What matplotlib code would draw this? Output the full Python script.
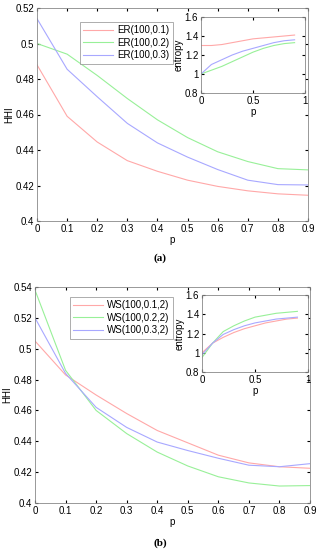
import matplotlib.pyplot as plt

plt.rcParams['font.family'] = ['Liberation Sans', 'DejaVu Sans']

# valores de p
p = [0, 0.1, 0.2, 0.3, 0.4, 0.5, 0.6, 0.7, 0.8, 0.9]

# (a) redes ER - HHI
er_labels = ['ER(100,0.1)', 'ER(100,0.2)', 'ER(100,0.3)']
er_hhi_1 = [0.488, 0.459, 0.4445, 0.434, 0.428, 0.423, 0.4195, 0.417, 0.4153, 0.4145]
er_hhi_2 = [0.500, 0.494, 0.482, 0.469, 0.457, 0.447, 0.439, 0.4335, 0.4295, 0.4288]
er_hhi_3 = [0.514, 0.4855, 0.470, 0.455, 0.444, 0.436, 0.429, 0.423, 0.4205, 0.4203]
# (a) redes ER - entropia
er_ent_1 = [1.30, 1.30, 1.31, 1.33, 1.35, 1.37, 1.38, 1.39, 1.40, 1.41]
er_ent_2 = [1.00, 1.04, 1.08, 1.13, 1.18, 1.23, 1.27, 1.30, 1.32, 1.33]
er_ent_3 = [1.00, 1.10, 1.15, 1.20, 1.24, 1.27, 1.30, 1.33, 1.35, 1.36]

# (b) redes WS - HHI
ws_labels = ['WS(100,0.1,2)', 'WS(100,0.2,2)', 'WS(100,0.3,2)']
ws_hhi_1 = [0.505, 0.483, 0.470, 0.458, 0.447, 0.439, 0.431, 0.426, 0.4235, 0.4225]
ws_hhi_2 = [0.538, 0.486, 0.460, 0.445, 0.433, 0.424, 0.417, 0.413, 0.411, 0.4113]
ws_hhi_3 = [0.520, 0.484, 0.462, 0.449, 0.4395, 0.434, 0.429, 0.4245, 0.4235, 0.4255]
# (b) redes WS - entropia
ws_ent_1 = [1.00, 1.10, 1.16, 1.21, 1.25, 1.28, 1.31, 1.33, 1.35, 1.36]
ws_ent_2 = [0.95, 1.10, 1.22, 1.28, 1.33, 1.37, 1.39, 1.41, 1.42, 1.43]
ws_ent_3 = [0.98, 1.10, 1.19, 1.24, 1.28, 1.31, 1.33, 1.35, 1.36, 1.37]

cores = ['#ffa8a8', '#98f098', '#a8a8ff']
fs = 7

rotulos_p = ['0', '0.1', '0.2', '0.3', '0.4', '0.5', '0.6', '0.7', '0.8', '0.9']


def estilo(ax):
    ax.tick_params(direction='in', top=True, right=True, labelsize=fs, length=2, pad=2)
    for s in ax.spines.values():
        s.set_color('#888888')
        s.set_linewidth(0.6)


fig = plt.figure(figsize=(3.2, 5.5), dpi=100)
W, H = 320, 550


def caixa(x0, y0, x1, y1):
    return [x0 / W, 1 - y1 / H, (x1 - x0) / W, (y1 - y0) / H]


def grafico(pos, series, labels, ymax, yticks, leg_anchor):
    ax = fig.add_axes(caixa(*pos))
    for y, c, lab in zip(series, cores, labels):
        ax.plot(p, y, color=c, lw=0.8, label=lab)
    ax.set_xlim(0, 0.9)
    ax.set_ylim(0.4, ymax)
    ax.set_xticks(p)
    ax.set_xticklabels(rotulos_p)
    ax.set_yticks(yticks)
    ax.set_yticklabels([('%g' % v) for v in yticks])
    ax.set_xlabel('p', fontsize=fs, labelpad=1)
    ax.set_ylabel('HHI', fontsize=fs, labelpad=1)
    estilo(ax)
    leg = ax.legend(loc='upper left', bbox_to_anchor=leg_anchor, fontsize=fs, frameon=True,
                    fancybox=False, edgecolor='#888888', handlelength=3.0, handletextpad=0.5,
                    borderpad=0.35, labelspacing=0.25, borderaxespad=0)
    leg.get_frame().set_linewidth(0.6)
    return ax


def inset(pos, series):
    ax = fig.add_axes(caixa(*pos))
    for y, c in zip(series, cores):
        ax.plot(p, y, color=c, lw=0.8)
    ax.set_xlim(0, 1)
    ax.set_ylim(0.8, 1.6)
    ax.set_xticks([0, 0.5, 1])
    ax.set_xticklabels(['0', '0.5', '1'])
    ax.set_yticks([0.8, 1, 1.2, 1.4, 1.6])
    ax.set_yticklabels(['0.8', '1', '1.2', '1.4', '1.6'])
    ax.set_xlabel('p', fontsize=fs, labelpad=1)
    ax.set_ylabel('entropy', fontsize=fs, labelpad=1)
    estilo(ax)
    return ax


# ---- (a) ----
grafico((37, 8, 308, 221), [er_hhi_1, er_hhi_2, er_hhi_3], er_labels, 0.52,
        [0.4, 0.42, 0.44, 0.46, 0.48, 0.5, 0.52], ((80 - 37) / 271, (221 - 22) / 213))
inset((201, 17, 305, 93), [er_ent_1, er_ent_2, er_ent_3])
fig.text(0.5, 1 - 258 / H, '(a)', ha='center', va='center', fontsize=8,
         fontweight='bold', family='Liberation Serif')

# ---- (b) ----
grafico((35, 287, 310, 503), [ws_hhi_1, ws_hhi_2, ws_hhi_3], ws_labels, 0.54,
        [0.4, 0.42, 0.44, 0.46, 0.48, 0.5, 0.52, 0.54], ((70 - 35) / 275, (503 - 297) / 216))
inset((202, 295, 308, 372), [ws_ent_1, ws_ent_2, ws_ent_3])
fig.text(0.5, 1 - 543 / H, '(b)', ha='center', va='center', fontsize=8,
         fontweight='bold', family='Liberation Serif')

fig.savefig('out.png', dpi=100)
